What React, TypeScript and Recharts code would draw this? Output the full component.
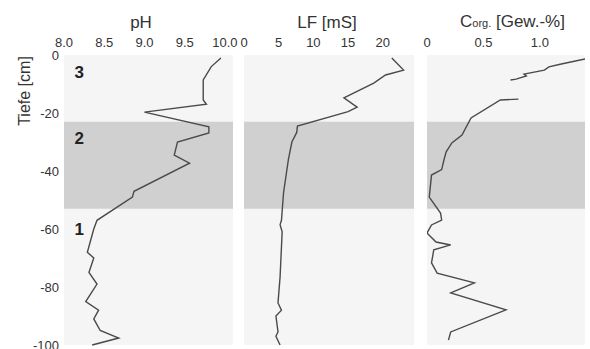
import React from 'react';
import { ScatterChart, Scatter, XAxis, YAxis, ReferenceArea, ReferenceDot } from 'recharts';

// ---- data ----
const depthTicks = [0, -20, -40, -60, -80, -100];
const phTicks = [8, 8.5, 9, 9.5, 10];
const lfTicks = [0, 5, 10, 15, 20];
const corgTicks = [0, 0.5, 1];

const phDepths = [-1, -4, -8.6, -15.5, -17, -19.7, -24.8, -26.9, -30, -34.5, -37.3, -47, -49, -57, -60, -68, -70, -75, -79, -85, -88, -91, -95, -97.6, -100];
const phValues = [9.95, 9.83, 9.73, 9.73, 9.77, 9.0, 9.8, 9.8, 9.41, 9.37, 9.56, 8.87, 8.85, 8.41, 8.37, 8.29, 8.37, 8.31, 8.41, 8.27, 8.43, 8.37, 8.45, 8.68, 8.35];

const lfDepths = [-1, -5.2, -6.9, -9.7, -14.8, -18, -19.5, -24.5, -26.7, -30, -36, -47.5, -57, -58.5, -61, -76.5, -85.5, -88, -90, -95.5, -97, -100];
const lfValues = [21.3, 23.0, 20.4, 18.7, 14.4, 16.3, 15.0, 7.7, 7.6, 6.9, 6.4, 5.7, 5.4, 5.2, 5.5, 5.2, 4.9, 5.4, 4.6, 4.9, 4.6, 5.2];

const corgTopDepths = [-1.4, -3.1, -4.1, -5.2, -6.6, -7.2, -8.3, -8.6];
const corgTopValues = [1.4, 1.19, 1.08, 1.04, 0.86, 0.88, 0.79, 0.74];

const corgDepths = [-15.2, -15.5, -21.7, -27.6, -30.3, -33.4, -36.2, -39.5, -41.4, -49, -54.5, -56.9, -58.6, -61.4, -64.5, -65.5, -67.2, -71.7, -75.2, -78.6, -82, -87.9, -95.5, -98.3];
const corgValues = [0.81, 0.65, 0.39, 0.31, 0.22, 0.17, 0.15, 0.13, 0.04, 0.02, 0.12, 0.13, 0.04, 0.0, 0.08, 0.21, 0.06, 0.04, 0.09, 0.42, 0.21, 0.7, 0.21, 0.19];

const bandDepths = [-23, -53];
const layerNames = ['3', '2', '1'];
const layerDepths = [-6, -28.5, -60];

const zip = (d: number[], v: number[]) => d.map((depth, i) => ({ depth, v: v[i] }));

const phData = zip(phDepths, phValues);
const lfData = zip(lfDepths, lfValues);
const corgTopData = zip(corgTopDepths, corgTopValues);
const corgData = zip(corgDepths, corgValues);

const FONT = '"Liberation Sans", Arial, sans-serif';
const TEXT = '#333';
const LINE = '#4a4a4a';
const BG = '#f5f5f5';
const BAND = '#d0d0d0';

const EmptyShape = () => <g />;

const tickStyle = { fontSize: 13, fill: TEXT, fontFamily: FONT };

function Panel(props: {
  margin: { top: number; bottom: number; left: number; right: number };
  domain: [number, number];
  ticks: number[];
  fmt: (v: number) => string;
  series: { depth: number; v: number }[][];
  showY?: boolean;
  children?: React.ReactNode;
}) {
  const { margin, domain, ticks, fmt, series, showY } = props;
  return (
    <div style={{ position: 'absolute', left: 0, top: 0 }}>
      <ScatterChart width={590} height={349} margin={margin}>
        <XAxis
          type="number"
          dataKey="v"
          orientation="top"
          domain={domain}
          ticks={ticks}
          tickFormatter={fmt}
          allowDataOverflow
          height={20}
          axisLine={false}
          tickLine={false}
          tickSize={0}
          tickMargin={8}
          tick={tickStyle}
          interval={0}
        />
        <YAxis
          type="number"
          dataKey="depth"
          domain={[-100, 0]}
          ticks={depthTicks}
          hide={!showY}
          width={40}
          axisLine={false}
          tickLine={false}
          tickSize={0}
          tickMargin={5}
          tick={tickStyle}
          interval={0}
        />
        <ReferenceArea y1={0} y2={-100} fill={BG} fillOpacity={1} stroke="none" ifOverflow="visible" />
        <ReferenceArea y1={bandDepths[0]} y2={bandDepths[1]} fill={BAND} fillOpacity={1} stroke="none" />
        {props.children}
        {series.map((s, i) => (
          <Scatter
            key={i}
            data={s}
            line={{ stroke: LINE, strokeWidth: 1.4 }}
            lineType="joint"
            shape={EmptyShape}
            isAnimationActive={false}
          />
        ))}
      </ScatterChart>
    </div>
  );
}

export default function App() {
  return (
    <div style={{ position: 'absolute', left: 0, top: 0, width: 590, height: 349, background: '#fff', fontFamily: FONT }}>
      <Panel
        margin={{ top: 35, bottom: 4, left: 24, right: 357 }}
        domain={[8, 10.1]}
        ticks={phTicks}
        fmt={(v) => v.toFixed(1)}
        series={[phData]}
        showY
      >
        {layerNames.map((n, i) => (
          <ReferenceDot
            key={n}
            x={8.19}
            y={layerDepths[i]}
            r={0}
            fill="none"
            stroke="none"
            label={{ value: n, position: 'center', fontSize: 17, fontWeight: 'bold', fill: '#222', fontFamily: FONT }}
          />
        ))}
      </Panel>
      <Panel
        margin={{ top: 35, bottom: 4, left: 244, right: 176 }}
        domain={[0, 24.5]}
        ticks={lfTicks}
        fmt={(v) => String(v)}
        series={[lfData]}
      />
      <Panel
        margin={{ top: 35, bottom: 4, left: 427, right: 5 }}
        domain={[0, 1.4]}
        ticks={corgTicks}
        fmt={(v) => (v === 0 ? '0' : v.toFixed(1))}
        series={[corgTopData, corgData]}
      />
      <svg width={590} height={349} style={{ position: 'absolute', left: 0, top: 0, pointerEvents: 'none' }}>
        <text x={141} y={28} textAnchor="middle" fontSize={17} fill={TEXT} fontFamily={FONT}>pH</text>
        <text x={327} y={28} textAnchor="middle" fontSize={17} fill={TEXT} fontFamily={FONT}>LF [mS]</text>
        <text x={460} y={27} fontSize={17} fill={TEXT} fontFamily={FONT}>
          <tspan>C</tspan>
          <tspan fontSize={11}>org.</tspan>
          <tspan> [Gew.-%]</tspan>
        </text>
        <text transform="translate(30,91) rotate(-90)" textAnchor="middle" fontSize={16} fill={TEXT} fontFamily={FONT}>Tiefe [cm]</text>
      </svg>
    </div>
  );
}
